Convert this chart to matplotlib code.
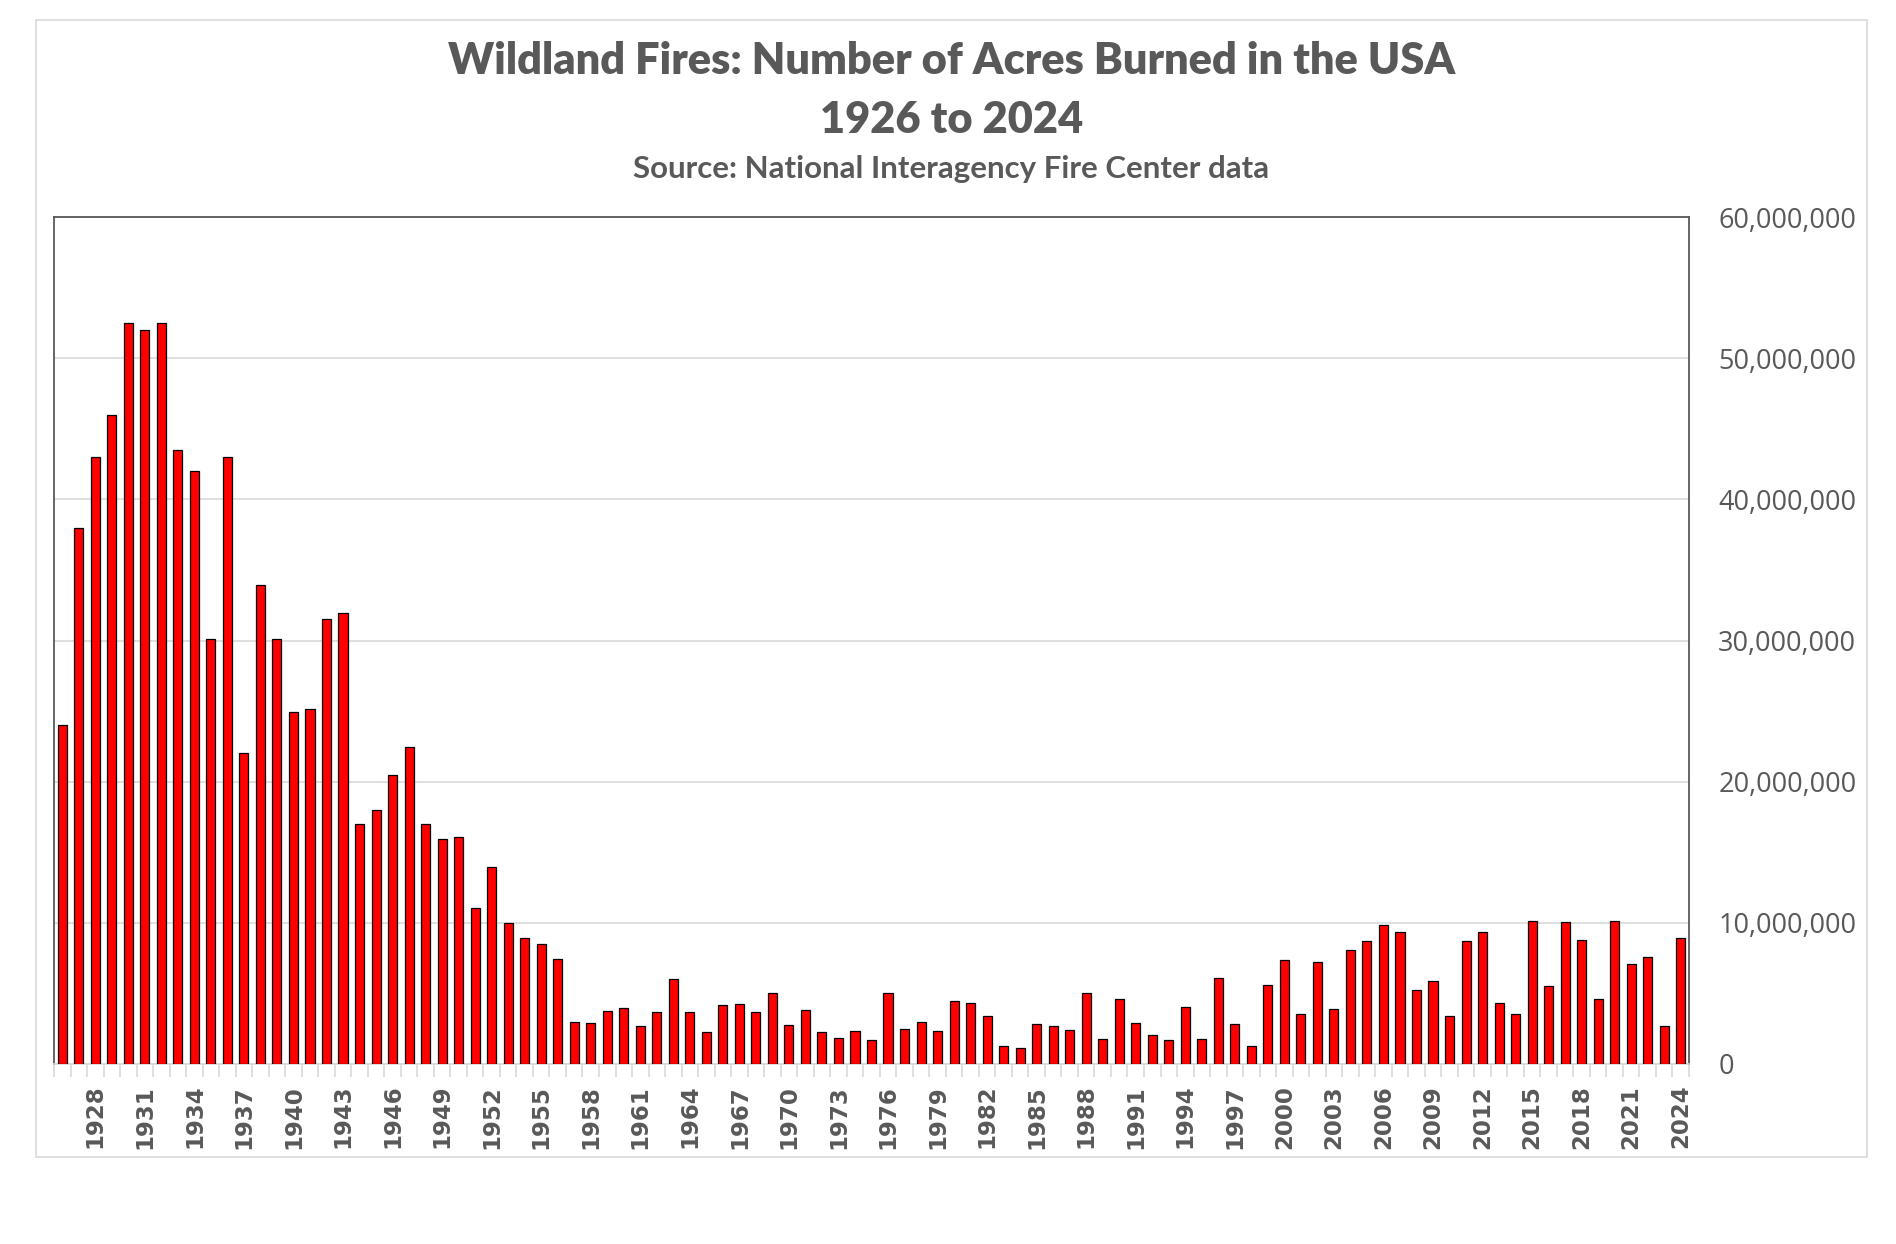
# Wildland fires: acres burned in the USA, 1926-2024 (NIFC data)
import matplotlib
matplotlib.use("Agg")
import matplotlib.pyplot as plt
import matplotlib.ticker as mticker
from matplotlib.patches import Rectangle
import numpy as np

# Data (acres, millions)
years = list(range(1926, 2025))
acres_m = [
    24.0, 38.0, 43.0, 46.0, 52.5, 52.0, 52.5, 43.5, 42.0, 30.1,   # 1926-1935
    43.0, 22.05, 33.9, 30.1, 24.9, 25.15, 31.5, 31.95, 17.0, 17.96,  # 1936-1945
    20.45, 22.44, 17.0, 15.97, 16.05, 11.06, 13.99, 9.97, 8.96, 8.48,  # 1946-1955
    7.45, 2.97, 2.87, 3.75, 3.99, 2.7, 3.66, 6.0, 3.7, 2.26,       # 1956-1965
    4.16, 4.25, 3.66, 5.0, 2.76, 3.8, 2.26, 1.83, 2.33, 1.69,      # 1966-1975
    5.0, 2.45, 2.96, 2.33, 4.47, 4.32, 3.42, 1.26, 1.12, 2.85,     # 1976-1985
    2.68, 2.4, 5.0, 1.78, 4.58, 2.92, 2.02, 1.73, 4.04, 1.78,      # 1986-1995
    6.06, 2.83, 1.31, 5.6, 7.39, 3.54, 7.2, 3.92, 8.08, 8.69,      # 1996-2005
    9.88, 9.36, 5.27, 5.91, 3.4, 8.72, 9.33, 4.3, 3.56, 10.14,     # 2006-2015
    5.49, 10.05, 8.77, 4.63, 10.14, 7.1, 7.58, 2.68, 8.93,         # 2016-2024
]
acres = np.array(acres_m) * 1e6

title1 = "Wildland Fires: Number of Acres Burned in the USA"
title2 = "1926 to 2024"
subtitle = "Source: National Interagency Fire Center data"

grey_text = "#595959"
light_grey = "#D9D9D9"

fig = plt.figure(figsize=(18.96, 12.44), dpi=100)
fig.patch.set_facecolor("white")

# outer chart border
fig.patches.append(Rectangle((36 / 1896, 1 - 1157 / 1244), (1867 - 36) / 1896, (1157 - 20) / 1244,
                             transform=fig.transFigure, fill=False, edgecolor=light_grey, linewidth=1.2))

ax = fig.add_axes([54 / 1896, 1 - 1064 / 1244, (1689 - 54) / 1896, (1064 - 217) / 1244])

x = np.arange(len(years))
ax.bar(x, acres, width=0.55, color="#FF0000", edgecolor="black", linewidth=0.9, zorder=3)

ax.set_xlim(-0.5, len(years) - 0.5)
ax.set_ylim(0, 60e6)

# y axis on the right
ax.yaxis.tick_right()
ax.set_yticks(np.arange(0, 60e6 + 1, 10e6))
ax.yaxis.set_major_formatter(mticker.FuncFormatter(lambda v, p: f"{v:,.0f}"))
ax.tick_params(axis="y", length=0, pad=21, labelsize=19.5, labelcolor=grey_text)
for lab in ax.get_yticklabels():
    lab.set_fontfamily("Open Sans")
ax.grid(axis="y", color=light_grey, linewidth=1.2, zorder=0)

# x axis: labels every third year, ticks at category boundaries
label_idx = x[2::3]
ax.set_xticks(label_idx)
ax.set_xticklabels([str(years[i]) for i in label_idx], rotation=90,
                   fontsize=16.5, fontweight="bold", color=grey_text, family="DejaVu Sans")
ax.set_xticks(np.arange(-0.5, len(years), 1), minor=True)
ax.tick_params(axis="x", which="major", length=0, pad=15)
ax.tick_params(axis="x", which="minor", length=9, color=light_grey, width=1.2)

for side in ["top", "left", "right"]:
    ax.spines[side].set_color("#595959")
    ax.spines[side].set_linewidth(1.3)
ax.spines["bottom"].set_color(light_grey)
ax.spines["bottom"].set_linewidth(1.2)

cx = 951.5 / 1896
fig.text(cx, 1 - 61 / 1244, title1, ha="center", va="center", fontsize=31.2,
         fontweight="heavy", color=grey_text, family="Lato")
fig.text(cx, 1 - 120 / 1244, title2, ha="center", va="center", fontsize=31.2,
         fontweight="heavy", color=grey_text, family="Lato")
fig.text(cx, 1 - 169 / 1244, subtitle, ha="center", va="center", fontsize=22.5,
         fontweight="bold", color=grey_text, family="Lato")

fig.savefig("out.png", dpi=100)
